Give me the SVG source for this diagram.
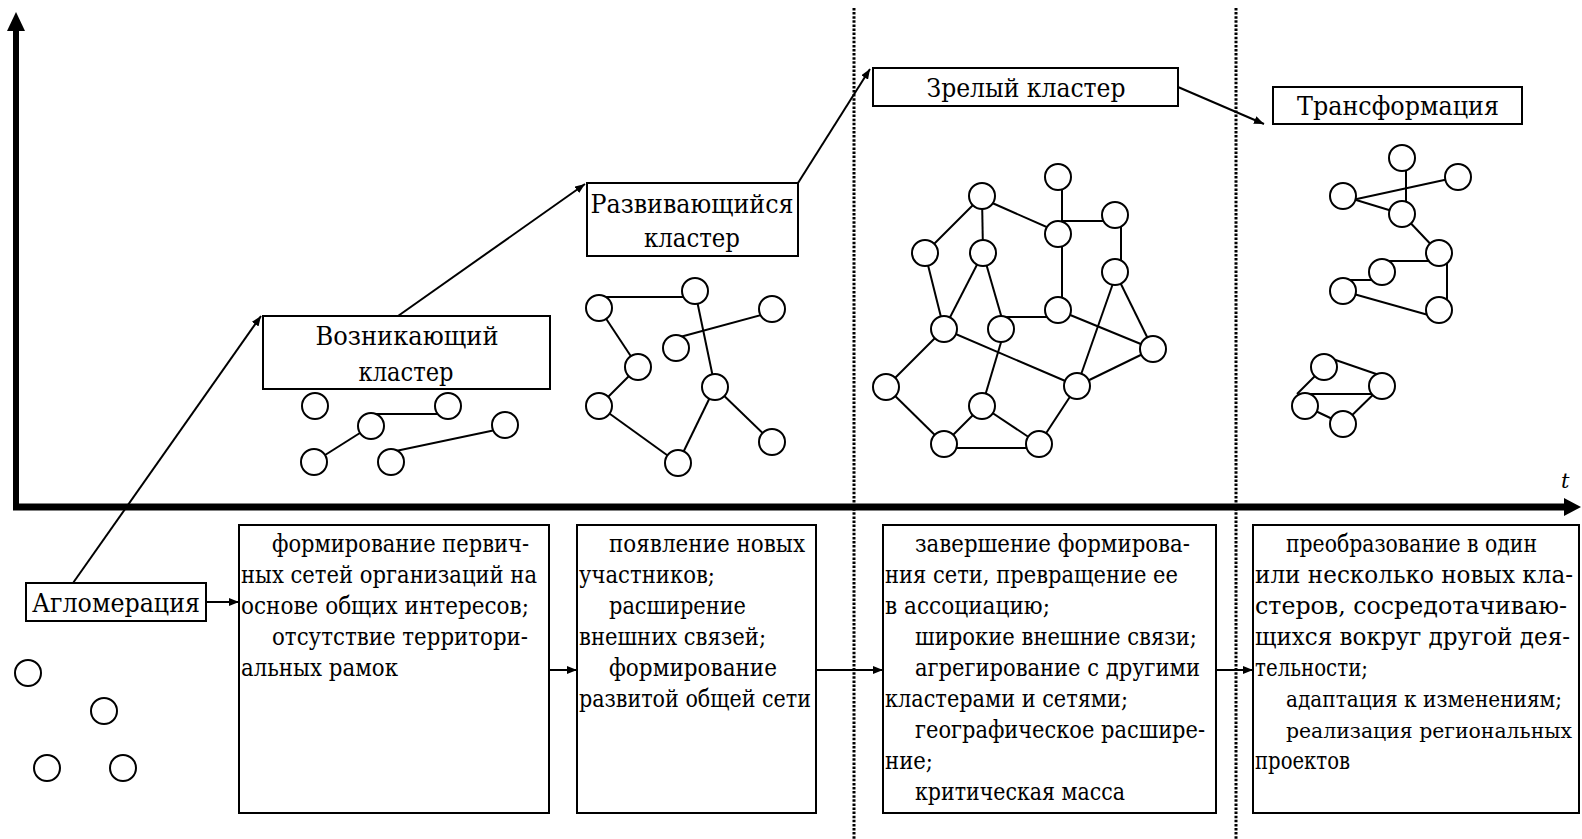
<svg xmlns="http://www.w3.org/2000/svg" width="1582" height="839" viewBox="0 0 1582 839">
<defs>
<marker id="ah" viewBox="0 0 10 8" refX="10" refY="4" markerWidth="10" markerHeight="8" markerUnits="userSpaceOnUse" orient="auto">
<path d="M0,0 L10,4 L0,8 Z" fill="#000"/>
</marker>
<style>
.ttl{font-family:"DejaVu Serif","Liberation Serif",serif;font-size:26px;fill:#000;text-anchor:middle}
.bt{font-family:"DejaVu Serif","Liberation Serif",serif;font-size:23.5px;fill:#000}
.bts{font-family:"DejaVu Serif","Liberation Serif",serif;font-size:21.5px;fill:#000}
.btx{font-family:"DejaVu Serif","Liberation Serif",serif;font-size:20px;fill:#000}
.box{fill:#fff;stroke:#000;stroke-width:2}
.n{fill:#fff;stroke:#000;stroke-width:2}
.e{stroke:#000;stroke-width:2;fill:none}
.arr{stroke:#000;stroke-width:2;fill:none;marker-end:url(#ah)}
.dot{stroke:#000;stroke-width:3;stroke-dasharray:2.5 1.6;fill:none}
</style>
</defs>
<rect width="1582" height="839" fill="#fff"/>

<g id="axes">
<line x1="16" y1="510" x2="16" y2="29" stroke="#000" stroke-width="6"/>
<polygon points="16,12 7,31 25,31" fill="#000"/>
<line x1="13" y1="507" x2="1566" y2="507" stroke="#000" stroke-width="7"/>
<polygon points="1581,507 1564,498 1564,516" fill="#000"/>
<text x="1561" y="488" font-family="DejaVu Serif, serif" font-style="italic" font-size="21">t</text>
</g>

<g id="dividers">
<line class="dot" x1="854" y1="8" x2="854" y2="839"/>
<line class="dot" x1="1236" y1="8" x2="1236" y2="839"/>
</g>

<g id="connectors">
<line class="arr" x1="73" y1="583" x2="261" y2="316"/>
<line class="arr" x1="398" y1="316" x2="585" y2="184"/>
<line class="arr" x1="798" y1="183" x2="870" y2="69"/>
<line class="arr" x1="1178" y1="87" x2="1264" y2="124"/>
<line class="arr" x1="206" y1="602" x2="239" y2="602"/>
<line class="arr" x1="549" y1="670" x2="577" y2="670"/>
<line class="arr" x1="816" y1="670" x2="883" y2="670"/>
<line class="arr" x1="1216" y1="670" x2="1253" y2="670"/>
</g>

<g id="agglomeration">
<rect class="box" x="26" y="583" width="180" height="38"/>
<text class="ttl" x="116" y="612" textLength="168" lengthAdjust="spacingAndGlyphs">Агломерация</text>
<circle class="n" cx="28" cy="673" r="13"/>
<circle class="n" cx="104" cy="711" r="13"/>
<circle class="n" cx="47" cy="768" r="13"/>
<circle class="n" cx="123" cy="768" r="13"/>
</g>

<g id="emerging">
<rect class="box" x="263" y="316" width="287" height="73"/>
<text class="ttl" x="407" y="345" textLength="183" lengthAdjust="spacingAndGlyphs">Возникающий</text>
<text class="ttl" x="406" y="381" textLength="95" lengthAdjust="spacingAndGlyphs">кластер</text>
<line class="e" x1="371" y1="414" x2="448" y2="414"/>
<line class="e" x1="314" y1="462" x2="371" y2="426"/>
<line class="e" x1="391" y1="452" x2="505" y2="428"/>
<circle class="n" cx="315" cy="406" r="13"/>
<circle class="n" cx="448" cy="406" r="13"/>
<circle class="n" cx="371" cy="426" r="13"/>
<circle class="n" cx="505" cy="425" r="13"/>
<circle class="n" cx="314" cy="462" r="13"/>
<circle class="n" cx="391" cy="462" r="13"/>
</g>

<g id="developing">
<rect class="box" x="587" y="183" width="211" height="73"/>
<text class="ttl" x="692" y="213" textLength="203" lengthAdjust="spacingAndGlyphs">Развивающийся</text>
<text class="ttl" x="692" y="247" textLength="96" lengthAdjust="spacingAndGlyphs">кластер</text>
<line class="e" x1="599" y1="297" x2="695" y2="297"/>
<line class="e" x1="599" y1="308" x2="638" y2="367"/>
<line class="e" x1="695" y1="291" x2="715" y2="387"/>
<line class="e" x1="680" y1="337" x2="772" y2="312"/>
<line class="e" x1="638" y1="367" x2="599" y2="406"/>
<line class="e" x1="599" y1="406" x2="678" y2="463"/>
<line class="e" x1="678" y1="463" x2="715" y2="387"/>
<line class="e" x1="715" y1="387" x2="772" y2="442"/>
<circle class="n" cx="599" cy="308" r="13"/>
<circle class="n" cx="695" cy="291" r="13"/>
<circle class="n" cx="772" cy="309" r="13"/>
<circle class="n" cx="676" cy="348" r="13"/>
<circle class="n" cx="638" cy="367" r="13"/>
<circle class="n" cx="599" cy="406" r="13"/>
<circle class="n" cx="715" cy="387" r="13"/>
<circle class="n" cx="772" cy="442" r="13"/>
<circle class="n" cx="678" cy="463" r="13"/>
</g>

<g id="mature">
<rect class="box" x="873" y="68" width="305" height="38"/>
<text class="ttl" x="1026" y="97" textLength="199" lengthAdjust="spacingAndGlyphs">Зрелый кластер</text>
<line class="e" x1="982" y1="196" x2="925" y2="253"/>
<line class="e" x1="982" y1="196" x2="983" y2="253"/>
<line class="e" x1="990" y1="202" x2="1058" y2="232"/>
<line class="e" x1="1062" y1="177" x2="1062" y2="310"/>
<line class="e" x1="1062" y1="221" x2="1115" y2="221"/>
<line class="e" x1="1121" y1="215" x2="1121" y2="272"/>
<line class="e" x1="1001" y1="317" x2="1058" y2="317"/>
<line class="e" x1="983" y1="253" x2="944" y2="329"/>
<line class="e" x1="925" y1="253" x2="944" y2="329"/>
<line class="e" x1="983" y1="253" x2="1005" y2="329"/>
<line class="e" x1="1058" y1="310" x2="1153" y2="349"/>
<line class="e" x1="1115" y1="272" x2="1153" y2="349"/>
<line class="e" x1="1117" y1="272" x2="1077" y2="386"/>
<line class="e" x1="944" y1="329" x2="1077" y2="386"/>
<line class="e" x1="1153" y1="349" x2="1077" y2="386"/>
<line class="e" x1="1005" y1="329" x2="982" y2="406"/>
<line class="e" x1="944" y1="329" x2="886" y2="387"/>
<line class="e" x1="886" y1="387" x2="944" y2="444"/>
<line class="e" x1="982" y1="406" x2="944" y2="444"/>
<line class="e" x1="982" y1="406" x2="1039" y2="444"/>
<line class="e" x1="944" y1="448" x2="1039" y2="448"/>
<line class="e" x1="1077" y1="386" x2="1039" y2="444"/>
<circle class="n" cx="1058" cy="177" r="13"/>
<circle class="n" cx="982" cy="196" r="13"/>
<circle class="n" cx="1115" cy="215" r="13"/>
<circle class="n" cx="1058" cy="234" r="13"/>
<circle class="n" cx="925" cy="253" r="13"/>
<circle class="n" cx="983" cy="253" r="13"/>
<circle class="n" cx="1115" cy="272" r="13"/>
<circle class="n" cx="1058" cy="310" r="13"/>
<circle class="n" cx="944" cy="329" r="13"/>
<circle class="n" cx="1001" cy="329" r="13"/>
<circle class="n" cx="1153" cy="349" r="13"/>
<circle class="n" cx="886" cy="387" r="13"/>
<circle class="n" cx="1077" cy="386" r="13"/>
<circle class="n" cx="982" cy="406" r="13"/>
<circle class="n" cx="944" cy="444" r="13"/>
<circle class="n" cx="1039" cy="444" r="13"/>
</g>

<g id="transformation">
<rect class="box" x="1273" y="87" width="249" height="37"/>
<text class="ttl" x="1398" y="115" textLength="202" lengthAdjust="spacingAndGlyphs">Трансформация</text>
<line class="e" x1="1406" y1="158" x2="1406" y2="214"/>
<line class="e" x1="1343" y1="202" x2="1458" y2="177"/>
<line class="e" x1="1343" y1="196" x2="1402" y2="214"/>
<line class="e" x1="1402" y1="214" x2="1439" y2="253"/>
<line class="e" x1="1382" y1="261" x2="1439" y2="261"/>
<line class="e" x1="1447" y1="253" x2="1447" y2="310"/>
<line class="e" x1="1343" y1="280" x2="1382" y2="280"/>
<line class="e" x1="1343" y1="291" x2="1439" y2="318"/>
<line class="e" x1="1324" y1="356" x2="1382" y2="376"/>
<line class="e" x1="1324" y1="367" x2="1297" y2="394"/>
<line class="e" x1="1305" y1="394" x2="1382" y2="394"/>
<line class="e" x1="1305" y1="406" x2="1343" y2="424"/>
<line class="e" x1="1343" y1="424" x2="1382" y2="386"/>
<circle class="n" cx="1402" cy="158" r="13"/>
<circle class="n" cx="1458" cy="177" r="13"/>
<circle class="n" cx="1343" cy="196" r="13"/>
<circle class="n" cx="1402" cy="214" r="13"/>
<circle class="n" cx="1439" cy="253" r="13"/>
<circle class="n" cx="1382" cy="272" r="13"/>
<circle class="n" cx="1343" cy="291" r="13"/>
<circle class="n" cx="1439" cy="310" r="13"/>
<circle class="n" cx="1324" cy="367" r="13"/>
<circle class="n" cx="1382" cy="386" r="13"/>
<circle class="n" cx="1305" cy="406" r="13"/>
<circle class="n" cx="1343" cy="424" r="13"/>
</g>

<g id="box1">
<rect class="box" x="239" y="525" width="310" height="288"/>
<text class="bt" x="272" y="552" textLength="257" lengthAdjust="spacingAndGlyphs">формирование первич-</text>
<text class="bt" x="241" y="583" textLength="296" lengthAdjust="spacingAndGlyphs">ных сетей организаций на</text>
<text class="bt" x="241" y="614" textLength="288" lengthAdjust="spacingAndGlyphs">основе общих интересов;</text>
<text class="bt" x="272" y="645" textLength="256" lengthAdjust="spacingAndGlyphs">отсутствие территори-</text>
<text class="bt" x="241" y="676" textLength="157" lengthAdjust="spacingAndGlyphs">альных рамок</text>
</g>

<g id="box2">
<rect class="box" x="577" y="525" width="239" height="288"/>
<text class="bt" x="609" y="552" textLength="196" lengthAdjust="spacingAndGlyphs">появление новых</text>
<text class="bt" x="579" y="583" textLength="136" lengthAdjust="spacingAndGlyphs">участников;</text>
<text class="bt" x="609" y="614" textLength="137" lengthAdjust="spacingAndGlyphs">расширение</text>
<text class="bt" x="579" y="645" textLength="187" lengthAdjust="spacingAndGlyphs">внешних связей;</text>
<text class="bt" x="609" y="676" textLength="168" lengthAdjust="spacingAndGlyphs">формирование</text>
<text class="bt" x="579" y="707" textLength="232" lengthAdjust="spacingAndGlyphs">развитой общей сети</text>
</g>

<g id="box3">
<rect class="box" x="883" y="525" width="333" height="288"/>
<text class="bt" x="915" y="552" textLength="275" lengthAdjust="spacingAndGlyphs">завершение формирова-</text>
<text class="bt" x="885" y="583" textLength="293" lengthAdjust="spacingAndGlyphs">ния сети, превращение ее</text>
<text class="bt" x="885" y="614" textLength="165" lengthAdjust="spacingAndGlyphs">в ассоциацию;</text>
<text class="bt" x="915" y="645" textLength="282" lengthAdjust="spacingAndGlyphs">широкие внешние связи;</text>
<text class="bt" x="915" y="676" textLength="285" lengthAdjust="spacingAndGlyphs">агрегирование с другими</text>
<text class="bt" x="885" y="707" textLength="243" lengthAdjust="spacingAndGlyphs">кластерами и сетями;</text>
<text class="bt" x="915" y="738" textLength="290" lengthAdjust="spacingAndGlyphs">географическое расшире-</text>
<text class="bt" x="885" y="769" textLength="48" lengthAdjust="spacingAndGlyphs">ние;</text>
<text class="bt" x="915" y="800" textLength="210" lengthAdjust="spacingAndGlyphs">критическая масса</text>
</g>

<g id="box4">
<rect class="box" x="1253" y="525" width="326" height="288"/>
<text class="bt" x="1286" y="552" textLength="251" lengthAdjust="spacingAndGlyphs">преобразование в один</text>
<text class="bt" x="1255" y="583" textLength="318" lengthAdjust="spacingAndGlyphs">или несколько новых кла-</text>
<text class="bt" x="1255" y="614" textLength="312" lengthAdjust="spacingAndGlyphs">стеров, сосредотачиваю-</text>
<text class="bt" x="1255" y="645" textLength="315" lengthAdjust="spacingAndGlyphs">щихся вокруг другой дея-</text>
<text class="bt" x="1255" y="676" textLength="113" lengthAdjust="spacingAndGlyphs">тельности;</text>
<text class="bts" x="1286" y="707" textLength="276" lengthAdjust="spacingAndGlyphs">адаптация к изменениям;</text>
<text class="btx" x="1286" y="738" textLength="286" lengthAdjust="spacingAndGlyphs">реализация региональных</text>
<text class="bt" x="1255" y="769" textLength="95" lengthAdjust="spacingAndGlyphs">проектов</text>
</g>
</svg>
